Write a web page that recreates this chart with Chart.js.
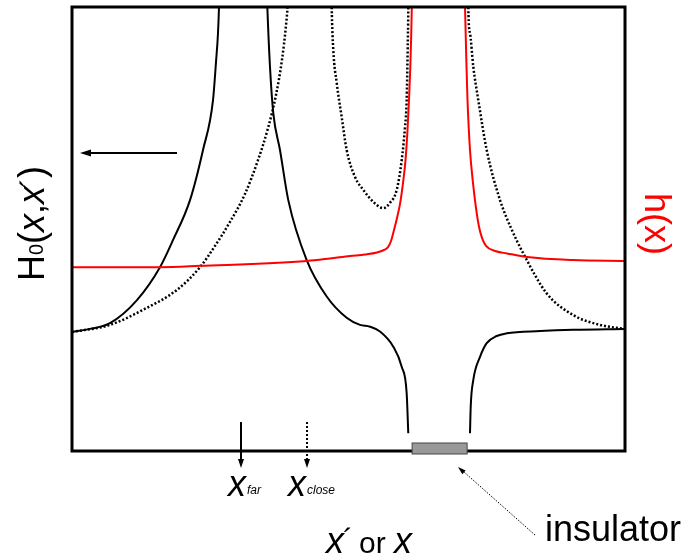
<!DOCTYPE html>
<html>
<head>
<meta charset="utf-8">
<script src="https://cdn.jsdelivr.net/npm/chart.js@4.4.1/dist/chart.umd.min.js"></script>
<style>
  html, body { margin: 0; padding: 0; background: #fff; }
  #wrap { width: 685px; height: 558px; }
</style>
</head>
<body>
<div id="wrap"><canvas id="chart"></canvas></div>
<script>
// curve traces, x = position (0..100), y = value (0..100), above 100 runs off the top
const solidLeft = [[0, 26.8], [3.25, 27.5], [6.87, 28.8], [11.75, 34.0], [15.91, 41.4], [18.26, 47.5],
  [21.34, 56.5], [23.69, 67.8], [25.5, 79.05], [26.04, 87.6], [26.4, 94.1], [26.58, 100], [26.65, 104]];
const solidMid = [[35.23, 103.8], [35.32, 100.1], [35.8, 86.6], [36.4, 76.1], [37.61, 67.8], [39.11, 56.5],
  [42.44, 43.0], [46.06, 34.8], [49.67, 30.0], [52.08, 28.4], [53.89, 28.0], [55.7, 26.9],
  [58.1, 23.5], [59.62, 19.0], [60.52, 13.0], [60.81, 4.0]];
const solidRight = [[71.97, 4.0], [72.1, 10.0], [72.57, 16.0], [73.78, 21.2], [74.99, 24.3], [76.8, 25.9],
  [78.61, 26.5], [84.63, 27.0], [90.65, 27.3], [100, 27.5]];

const dotLeft = [[0, 26.8], [6.87, 28.4], [12.84, 31.8], [18.99, 36.3], [23.15, 41.4], [25.86, 46.2],
  [28.57, 51.6], [31.28, 57.9], [33.63, 65.5], [35.44, 72.7], [36.89, 80.2], [37.97, 88.1],
  [38.7, 95.9], [38.97, 100], [39.06, 102.7]];
const dotMid = [[46.93, 102.7], [46.96, 100.1], [47.25, 90.3], [47.87, 82.9], [48.77, 75.2], [49.67, 67.8],
  [51.18, 61.7], [52.68, 58.8], [54.48, 56.1], [56.29, 54.7], [57.5, 55.9], [58.72, 58.8],
  [59.62, 65.5], [60.22, 73.0], [60.52, 79.05], [60.7, 90.3], [60.81, 99.3], [60.83, 102.7]];
const dotRight = [[71.65, 102.7], [71.66, 100.1], [71.97, 94.1], [72.57, 86.5], [73.47, 79.05], [74.99, 67.8],
  [77.4, 56.5], [79.39, 50.2], [81.61, 44.5], [85.84, 35.5], [90.65, 30.6], [95.48, 28.4], [100, 27.5]];

const redLeft = [[0, 41.4], [15.91, 41.4], [23.15, 41.7], [42.5, 42.8], [46.65, 43.36], [50.27, 43.92],
  [52.98, 44.26], [55.15, 44.71], [56.42, 45.27], [57.14, 45.9], [57.69, 47.3], [58.23, 49.8],
  [58.77, 52.5], [59.31, 55.6], [59.86, 60.4], [60.31, 65.5], [60.67, 72.3], [60.94, 79.05],
  [61.18, 86.5], [61.34, 93.7], [61.45, 100], [61.48, 102.7]];
const redRight = [[71.03, 102.7], [71.07, 100], [71.34, 86.5], [71.52, 79.05], [71.97, 67.8], [72.51, 60.4],
  [73.06, 54.7], [73.6, 50.5], [74.14, 48.0], [74.86, 46.2], [76.67, 45.0], [78.66, 44.5],
  [82.28, 43.7], [90.6, 43.0], [100, 42.8]];

// marked positions on the x axis
const xFar = 30.56;
const xClose = 42.5;
const insulator = [61.5, 71.45];

const FONT = '"Liberation Sans", Arial, sans-serif';

function pts(arr) {
  return arr.map(p => ({ x: p[0], y: p[1] }));
}

function line(data, color, dashed) {
  return {
    data: pts(data),
    showLine: true,
    borderColor: color,
    borderWidth: dashed ? 2.5 : 2,
    borderDash: dashed ? [2, 2] : [],
    pointRadius: 0,
    fill: false,
    cubicInterpolationMode: 'monotone'
  };
}

function arrowHead(ctx, x, y, angle, len, wid) {
  ctx.save();
  ctx.translate(x, y);
  ctx.rotate(angle);
  ctx.beginPath();
  ctx.moveTo(0, 0);
  ctx.lineTo(-len, -wid / 2);
  ctx.lineTo(-len, wid / 2);
  ctx.closePath();
  ctx.fill();
  ctx.restore();
}

// draws runs of [text, font, dy, gap] one after another from the current origin
function runs(ctx, parts) {
  let x = 0;
  parts.forEach(p => {
    ctx.font = p[1];
    ctx.fillText(p[0], x, p[2] || 0);
    x += ctx.measureText(p[0]).width + (p[3] || 0);
  });
}

const extras = {
  id: 'extras',
  afterDatasetsDraw(chart) {
    const ctx = chart.ctx;
    const a = chart.chartArea;
    const xs = chart.scales.x;
    ctx.save();

    // frame
    ctx.strokeStyle = '#000';
    ctx.lineWidth = 3;
    ctx.setLineDash([]);
    ctx.strokeRect(a.left, a.top, a.right - a.left, a.bottom - a.top);

    // insulator block
    const i0 = xs.getPixelForValue(insulator[0]);
    const i1 = xs.getPixelForValue(insulator[1]);
    ctx.fillStyle = '#999';
    ctx.fillRect(i0, a.bottom - 8, i1 - i0, 11);
    ctx.strokeStyle = '#444';
    ctx.lineWidth = 1;
    ctx.strokeRect(i0, a.bottom - 8, i1 - i0, 11);

    // left arrow
    ctx.fillStyle = '#000';
    ctx.strokeStyle = '#000';
    ctx.lineWidth = 2;
    ctx.beginPath();
    ctx.moveTo(a.left + 105, a.top + 146);
    ctx.lineTo(a.left + 14, a.top + 146);
    ctx.stroke();
    arrowHead(ctx, a.left + 8, a.top + 146, Math.PI, 11, 7);

    // x_far / x_close arrows
    const pf = xs.getPixelForValue(xFar);
    const pc = xs.getPixelForValue(xClose);
    ctx.lineWidth = 2;
    ctx.beginPath();
    ctx.moveTo(pf, a.bottom - 29);
    ctx.lineTo(pf, a.bottom + 10);
    ctx.stroke();
    arrowHead(ctx, pf, a.bottom + 17, Math.PI / 2, 9, 6);
    ctx.setLineDash([2, 2]);
    ctx.beginPath();
    ctx.moveTo(pc, a.bottom - 29);
    ctx.lineTo(pc, a.bottom + 10);
    ctx.stroke();
    ctx.setLineDash([]);
    arrowHead(ctx, pc, a.bottom + 17, Math.PI / 2, 9, 6);

    // insulator pointer
    ctx.lineWidth = 1;
    ctx.setLineDash([1.5, 1.5]);
    ctx.beginPath();
    ctx.moveTo(535, 535);
    ctx.lineTo(464, 472);
    ctx.stroke();
    ctx.setLineDash([]);
    arrowHead(ctx, 458, 467, Math.atan2(467 - 535, 458 - 535), 8, 5);

    // texts
    ctx.fillStyle = '#000';
    ctx.textBaseline = 'alphabetic';
    ctx.textAlign = 'left';

    ctx.save();
    ctx.translate(pf - 13, 496);
    runs(ctx, [['x', 'italic 36px ' + FONT, 0, 1], ['far', 'italic 12px ' + FONT, -2]]);
    ctx.restore();
    ctx.save();
    ctx.translate(pc - 19, 496);
    runs(ctx, [['x', 'italic 36px ' + FONT, 0, 1], ['close', 'italic 12px ' + FONT, -2]]);
    ctx.restore();

    ctx.font = '36px ' + FONT;
    ctx.fillText('insulator', 545, 541);

    ctx.save();
    ctx.translate(326, 553);
    runs(ctx, [['x', 'italic 36px ' + FONT, 0, -1], ['\u00b4', '30px ' + FONT, -4, 6],
      ['or ', '30px ' + FONT], ['x', 'italic 36px ' + FONT]]);
    ctx.restore();

    // left axis title
    ctx.save();
    ctx.translate(44, 281);
    ctx.rotate(-Math.PI / 2);
    runs(ctx, [['H', '36px ' + FONT], ['0', '20px ' + FONT, -1], ['(', '36px ' + FONT],
      ['x', 'italic 36px ' + FONT], [',', '36px ' + FONT], ['x', 'italic 36px ' + FONT, 0, -2],
      ['\u00b4', '30px ' + FONT, -3], [')', '36px ' + FONT]]);
    ctx.restore();

    // right axis title
    ctx.save();
    ctx.translate(645, 193);
    ctx.rotate(Math.PI / 2);
    ctx.fillStyle = '#ff0000';
    ctx.font = '36px ' + FONT;
    ctx.fillText('h(x)', 0, 0);
    ctx.restore();

    ctx.restore();
  }
};

new Chart(document.getElementById('chart'), {
  type: 'scatter',
  data: {
    datasets: [
      line(redLeft, '#ff0000', false),
      line(redRight, '#ff0000', false),
      line(dotLeft, '#000', true),
      line(dotMid, '#000', true),
      line(dotRight, '#000', true),
      line(solidLeft, '#000', false),
      line(solidMid, '#000', false),
      line(solidRight, '#000', false)
    ]
  },
  options: {
    responsive: true,
    maintainAspectRatio: false,
    animation: false,
    layout: { padding: { left: 72, right: 60, top: 7, bottom: 107 } },
    scales: {
      x: { type: 'linear', min: 0, max: 100, display: false },
      y: { type: 'linear', min: 0, max: 100, display: false }
    },
    plugins: {
      legend: { display: false },
      tooltip: { enabled: false }
    }
  },
  plugins: [extras]
});
</script>
</body>
</html>
